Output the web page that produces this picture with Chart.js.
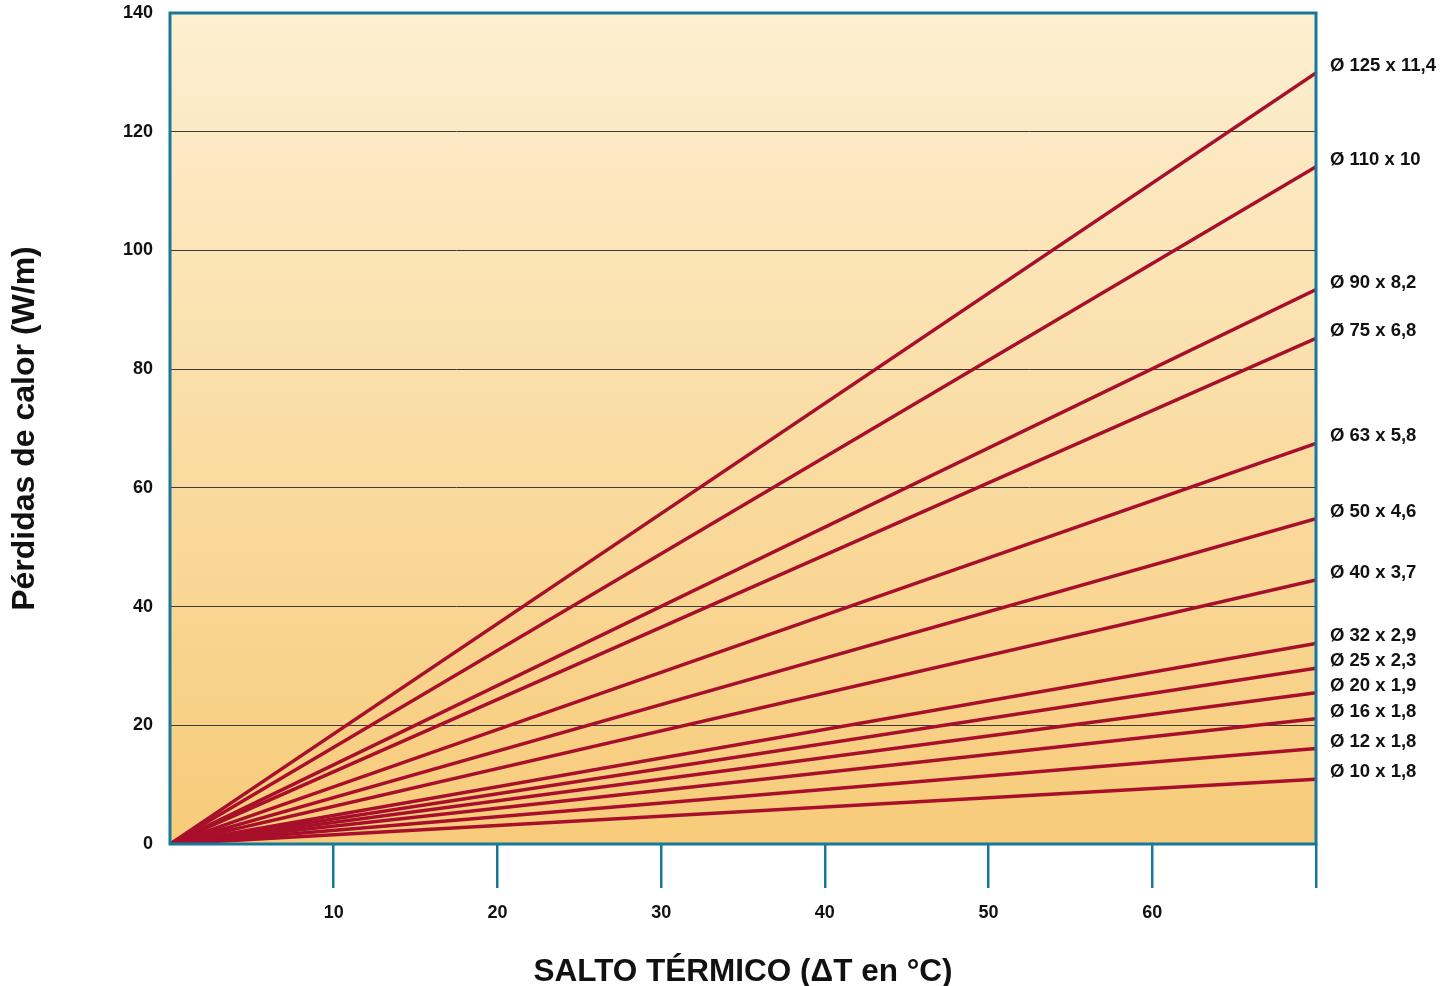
<!DOCTYPE html>
<html>
<head>
<meta charset="utf-8">
<title>Pérdidas de calor</title>
<script src="https://cdn.jsdelivr.net/npm/chart.js@4.4.1/dist/chart.umd.min.js"></script>
<style>
  html, body { margin:0; padding:0; background:#ffffff; }
  #wrap { width:1441px; height:986px; }
</style>
</head>
<body>
<div id="wrap"><canvas id="chart-loss" width="1441" height="986"></canvas></div>
<script>
// ---- data ----
var deltaT = [0, 70];
var pipeLabels = [
  'Ø 125 x 11,4', 'Ø 110 x 10', 'Ø 90 x 8,2', 'Ø 75 x 6,8', 'Ø 63 x 5,8',
  'Ø 50 x 4,6', 'Ø 40 x 3,7', 'Ø 32 x 2,9', 'Ø 25 x 2,3', 'Ø 20 x 1,9',
  'Ø 16 x 1,8', 'Ø 12 x 1,8', 'Ø 10 x 1,8'
];
// heat loss (W/m) at deltaT[0] and deltaT[1]
var heatLoss = [
  [0, 129.9], [0, 114.1], [0, 93.4], [0, 85.2], [0, 67.5],
  [0, 54.8], [0, 44.5], [0, 33.8], [0, 29.6], [0, 25.5],
  [0, 21.1], [0, 16.1], [0, 10.9]
];
var yTicks = [0, 20, 40, 60, 80, 100, 120, 140];
var xTicks = [10, 20, 30, 40, 50, 60];

var TEAL = '#17799a';
var RED = '#a80f2b';
var FONT = "'Liberation Sans', Arial, sans-serif";

var datasets = heatLoss.map(function(s, i) {
  return {
    label: pipeLabels[i],
    data: s.map(function(v, j) { return { x: deltaT[j], y: v }; }),
    borderColor: RED,
    borderWidth: 3.5,
    pointRadius: 0,
    fill: false,
    tension: 0
  };
});

// plot background + frame + end labels
var framePlugin = {
  id: 'frame',
  beforeDraw: function(chart) {
    var a = chart.chartArea, ctx = chart.ctx;
    var g = ctx.createLinearGradient(0, a.top, 0, a.bottom);
    g.addColorStop(0, '#fdefd1');
    g.addColorStop(1, '#f7cb79');
    ctx.save();
    ctx.fillStyle = g;
    ctx.fillRect(a.left, a.top, a.right - a.left, a.bottom - a.top);
    ctx.restore();
  },
  afterDatasetsDraw: function(chart) {
    var a = chart.chartArea, ctx = chart.ctx, ys = chart.scales.y;
    ctx.save();
    ctx.strokeStyle = TEAL;
    ctx.lineWidth = 3;
    ctx.strokeRect(a.left, a.top, a.right - a.left, a.bottom - a.top);
    ctx.fillStyle = '#111';
    ctx.font = 'bold 18.5px ' + FONT;
    ctx.textAlign = 'left';
    ctx.textBaseline = 'middle';
    heatLoss.forEach(function(s, i) {
      ctx.fillText(pipeLabels[i], a.right + 14, ys.getPixelForValue(s[s.length - 1]) - 7);
    });
    ctx.restore();
  }
};

new Chart(document.getElementById('chart-loss'), {
  type: 'line',
  data: { datasets: datasets },
  options: {
    responsive: false,
    animation: false,
    layout: { padding: { left: 0, top: 13, right: 125, bottom: 0 } },
    plugins: { legend: { display: false }, tooltip: { enabled: false } },
    scales: {
      x: {
        type: 'linear',
        min: deltaT[0], max: deltaT[1],
        afterFit: function(s) { s.height = 142; s.paddingLeft = 0; s.paddingRight = 0; },
        afterBuildTicks: function(s) {
          s.ticks = [0].concat(xTicks, [70]).map(function(v) { return { value: v }; });
        },
        border: { display: false },
        grid: {
          drawOnChartArea: false,
          drawTicks: true,
          tickLength: 44,
          lineWidth: 2.5,
          color: function(c) { return c.tick && c.tick.value === 0 ? 'rgba(0,0,0,0)' : TEAL; }
        },
        ticks: {
          padding: 14,
          color: '#111',
          font: { family: FONT, size: 18, weight: 'bold' },
          callback: function(v) { return xTicks.indexOf(v) >= 0 ? String(v) : ''; }
        },
        title: {
          display: true,
          text: 'SALTO TÉRMICO (ΔT en °C)',
          color: '#111',
          font: { family: FONT, size: 31.5, weight: 'bold', lineHeight: 0.9 },
          padding: 0
        }
      },
      y: {
        min: 0, max: 140,
        afterFit: function(s) { s.width = 170; s.paddingTop = 0; s.paddingBottom = 0; },
        afterBuildTicks: function(s) {
          s.ticks = yTicks.map(function(v) { return { value: v }; });
        },
        border: { display: false },
        grid: { drawTicks: false, color: '#3a3a3a', lineWidth: 1 },
        ticks: {
          padding: 17,
          color: '#111',
          font: { family: FONT, size: 18, weight: 'bold' }
        },
        title: {
          display: true,
          text: 'Pérdidas de calor (W/m)',
          color: '#111',
          font: { family: FONT, size: 32, weight: 'bold' },
          padding: { top: 6, bottom: 0 }
        }
      }
    }
  },
  plugins: [framePlugin]
});
</script>
</body>
</html>
